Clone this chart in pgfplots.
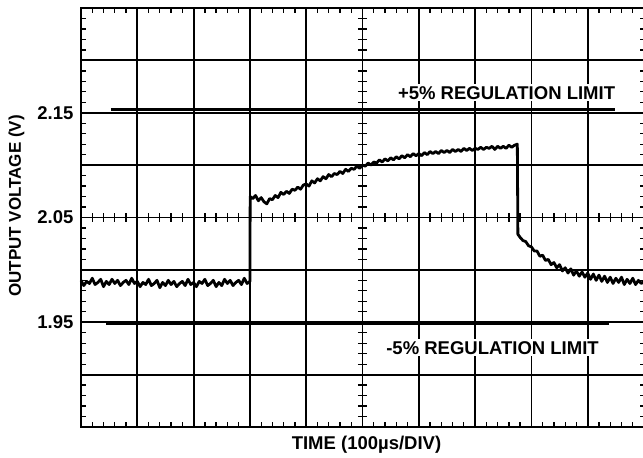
\documentclass[border=0pt]{standalone}
\usepackage{pgfplots}
\pgfplotsset{compat=1.18}
\usepackage{fontspec}
\setmainfont{Liberation Sans}

\begin{document}
\begin{tikzpicture}
\useasboundingbox (0pt,0pt) rectangle (643pt,458pt);
\begin{axis}[
    at={(81pt,31pt)}, anchor=south west,
    scale only axis, width=563pt, height=419pt,
    xmin=0, xmax=10, ymin=1.85, ymax=2.25,
    xtick={0,1,2,3,4,5,6,7,8,9,10}, xticklabels={},
    ytick={1.85,1.90,1.95,2.00,2.05,2.10,2.15,2.20,2.25},
    yticklabels={,,1.95,,2.05,,2.15,,},
    minor x tick num=4, minor y tick num=4,
    tick align=inside, major tick length=0pt, minor tick length=4.5pt,
    minor tick style={line width=1.3pt, black},
    grid=major, major grid style={line width=1.8pt, black},
    axis line style={line width=2pt},
    ticklabel style={font=\bfseries\fontsize{18.5}{20}\selectfont},
    yticklabel style={xshift=-4pt},
    clip=false,
]
% centre cross minor ticks
\pgfplotsinvokeforeach{1.86,1.87,1.88,1.89,1.91,1.92,1.93,1.94,1.96,1.97,1.98,1.99,2.01,2.02,2.03,2.04,2.06,2.07,2.08,2.09,2.11,2.12,2.13,2.14,2.16,2.17,2.18,2.19,2.21,2.22,2.23,2.24}{
  \draw[line width=1.3pt] (axis cs:4.92,#1) -- (axis cs:5.08,#1);
}
\pgfplotsinvokeforeach{0.2,0.4,0.6,0.8,1.2,1.4,1.6,1.8,2.2,2.4,2.6,2.8,3.2,3.4,3.6,3.8,4.2,4.4,4.6,4.8,5.2,5.4,5.6,5.8,6.2,6.4,6.6,6.8,7.2,7.4,7.6,7.8,8.2,8.4,8.6,8.8,9.2,9.4,9.6,9.8}{
  \draw[line width=1.3pt] (axis cs:#1,2.0458) -- (axis cs:#1,2.0542);
}

% regulation limits
\addplot[black, line width=3.2pt] coordinates {(0.53,2.1528) (9.48,2.1528)};
\addplot[black, line width=3.6pt] coordinates {(0.44,1.9488) (9.38,1.9488)};

% output voltage trace
\addplot[black, line width=2.8pt, line join=round] coordinates {
(0.00,1.990) (0.05,1.985) (0.10,1.989) (0.15,1.987) (0.20,1.992) (0.25,1.986) (0.30,1.988) (0.35,1.991) (0.40,1.984) (0.45,1.989)
(0.50,1.986) (0.55,1.991) (0.60,1.987) (0.65,1.990) (0.70,1.985) (0.75,1.988) (0.80,1.990) (0.85,1.986) (0.90,1.992) (0.95,1.987)
(1.00,1.989) (1.05,1.984) (1.10,1.988) (1.15,1.986) (1.20,1.991) (1.25,1.985) (1.30,1.987) (1.35,1.990) (1.40,1.983) (1.45,1.988)
(1.50,1.985) (1.55,1.990) (1.60,1.986) (1.65,1.989) (1.70,1.984) (1.75,1.987) (1.80,1.989) (1.85,1.985) (1.90,1.991) (1.95,1.986)
(2.00,1.988) (2.05,1.984) (2.10,1.989) (2.15,1.987) (2.20,1.991) (2.25,1.985) (2.30,1.987) (2.35,1.990) (2.40,1.984) (2.45,1.988)
(2.50,1.985) (2.55,1.991) (2.60,1.987) (2.65,1.990) (2.70,1.985) (2.75,1.988) (2.80,1.990) (2.85,1.986) (2.90,1.992) (2.95,1.987)
(3.00,1.989) (3.005,2.070)
(3.05,2.068) (3.10,2.071) (3.15,2.066) (3.20,2.069) (3.25,2.065) (3.30,2.063) (3.35,2.068) (3.40,2.067) (3.45,2.071)
(3.50,2.069) (3.55,2.074) (3.60,2.072) (3.65,2.075) (3.70,2.073) (3.75,2.077) (3.80,2.076) (3.85,2.079) (3.90,2.077) (3.95,2.081)
(4.00,2.082) (4.05,2.080) (4.10,2.085) (4.15,2.083) (4.20,2.087) (4.25,2.085) (4.30,2.089) (4.35,2.087) (4.40,2.091) (4.45,2.089)
(4.50,2.092) (4.55,2.091) (4.60,2.094) (4.65,2.092) (4.70,2.096) (4.75,2.094) (4.80,2.097) (4.85,2.096) (4.90,2.099) (4.95,2.097)
(5.00,2.100) (5.05,2.099) (5.10,2.102) (5.15,2.100) (5.20,2.103) (5.25,2.102) (5.30,2.105) (5.35,2.103) (5.40,2.106) (5.45,2.104)
(5.50,2.107) (5.55,2.105) (5.60,2.108) (5.65,2.106) (5.70,2.109) (5.75,2.107) (5.80,2.110) (5.85,2.108) (5.90,2.111) (5.95,2.109)
(6.00,2.111) (6.05,2.109) (6.10,2.112) (6.15,2.110) (6.20,2.113) (6.25,2.111) (6.30,2.113) (6.35,2.111) (6.40,2.114) (6.45,2.112)
(6.50,2.114) (6.55,2.112) (6.60,2.115) (6.65,2.113) (6.70,2.115) (6.75,2.113) (6.80,2.116) (6.85,2.114) (6.90,2.116) (6.95,2.114)
(7.00,2.116) (7.05,2.115) (7.10,2.117) (7.15,2.115) (7.20,2.117) (7.25,2.116) (7.30,2.118) (7.35,2.115) (7.40,2.118) (7.45,2.116)
(7.50,2.118) (7.55,2.116) (7.60,2.119) (7.65,2.117) (7.70,2.119) (7.75,2.120) (7.76,2.034)
(7.80,2.031) (7.85,2.028) (7.90,2.027) (7.95,2.023) (8.00,2.022) (8.05,2.018) (8.10,2.018) (8.15,2.013) (8.20,2.014) (8.25,2.009)
(8.30,2.010) (8.35,2.005) (8.40,2.007) (8.45,2.002) (8.50,2.005) (8.55,1.999) (8.60,2.002) (8.65,1.997) (8.70,2.001) (8.75,1.995)
(8.80,1.999) (8.85,1.994) (8.90,1.998) (8.95,1.993) (9.00,1.997) (9.05,1.991) (9.10,1.996) (9.15,1.990) (9.20,1.995) (9.25,1.989)
(9.30,1.994) (9.35,1.988) (9.40,1.993) (9.45,1.987) (9.50,1.992) (9.55,1.988) (9.60,1.993) (9.65,1.986) (9.70,1.991) (9.75,1.987)
(9.80,1.992) (9.85,1.986) (9.90,1.990) (9.95,1.987) (10.00,1.989)
};

\node[anchor=east, fill=white, inner sep=2pt, font=\bfseries\fontsize{18.5}{20}\selectfont] at (axis cs:9.525,2.169) {+5\% REGULATION LIMIT};
\node[anchor=west, fill=white, inner sep=2pt, font=\bfseries\fontsize{18.5}{20}\selectfont] at (axis cs:5.384,1.9256) {-5\% REGULATION LIMIT};
\end{axis}
\node[rotate=90, inner sep=0pt, font=\bfseries\fontsize{17}{20}\selectfont] at (16.5pt,252pt) {OUTPUT VOLTAGE (V)};
\node[inner sep=0pt, font=\bfseries\fontsize{18.5}{20}\selectfont] at (366.5pt,13.3pt) {TIME (100µs/DIV)};
\end{tikzpicture}
\end{document}
